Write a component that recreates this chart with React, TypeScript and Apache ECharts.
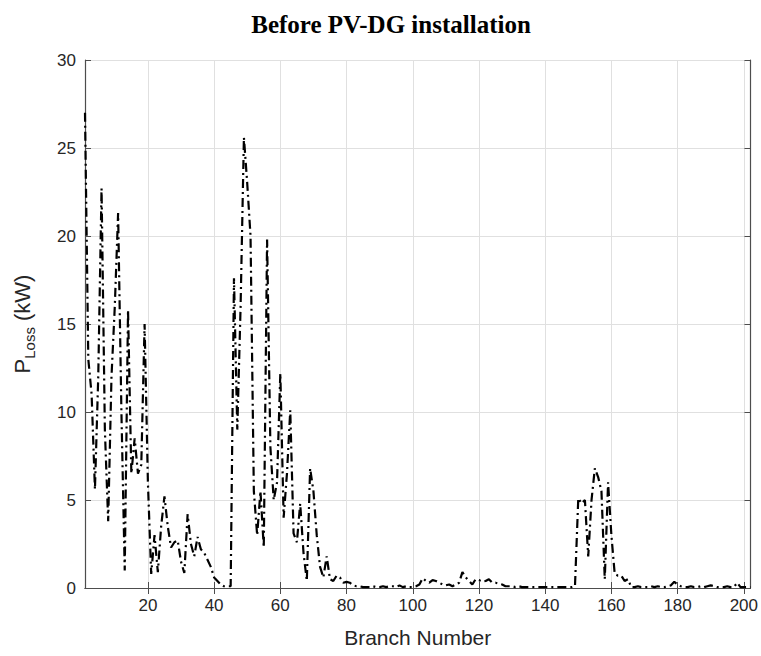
import React, { useEffect, useRef } from "react";
import * as echarts from "echarts";

const branchStart = 1;
const branchEnd = 202;

// Power loss per branch (kW), branches 1..202
const lossSeg1 = [
  27, 13, 11, 5.6, 12, 22.7, 9, 3.8, 12, 16,
  21.3, 10, 1, 15.8, 6.5, 8.5, 6.5, 7, 15, 6,
  0.8, 3.0, 0.9, 3.5, 5.2, 3.5, 2.3, 2.6, 2.7, 1.5,
  0.85, 4.2, 2.5, 1.8, 2.9, 2.2, 2.0, 1.6, 1.2, 0.6,
];
const lossSeg2 = [
  0.4, 0.2, 0.1, 0.1, 0.1, 17.6, 9, 16, 25.6, 23,
  20, 5.5, 3, 5.5, 2.3, 19.8, 8, 5, 6, 12.2,
  4, 6.5, 10.1, 3.1, 2.6, 4.8, 2, 0.4, 6.8, 5.5,
  3, 1.2, 0.6, 1.8, 0.5, 0.4, 0.7, 0.6, 0.3, 0.35,
];
const lossSeg3 = [
  0.3, 0.15, 0.1, 0.1, 0.05, 0.05, 0.05, 0.1, 0.05, 0.05,
  0.1, 0.05, 0.1, 0.1, 0.05, 0.15, 0.05, 0.1, 0.05, 0.05,
  0.1, 0.2, 0.55, 0.4, 0.3, 0.45, 0.4, 0.3, 0.2, 0.15,
  0.2, 0.1, 0.2, 0.3, 0.9, 0.6, 0.4, 0.2, 0.5, 0.45,
];
const lossSeg4 = [
  0.35, 0.4, 0.5, 0.3, 0.3, 0.25, 0.2, 0.1, 0.1, 0.1,
  0.05, 0.1, 0.05, 0.05, 0.05, 0.05, 0.05, 0.05, 0.05, 0.05,
  0.05, 0.05, 0.05, 0.05, 0.05, 0.05, 0.05, 0.05, 0.1, 5.1,
  4.8, 5.0, 1.8, 5.0, 6.8, 6.3, 5.5, 0.5, 6.0, 3,
];
const lossSeg5 = [
  0.8, 0.7, 0.7, 0.4, 0.5, 0.05, 0.05, 0.1, 0.05, 0.05,
  0.05, 0.1, 0.05, 0.1, 0.05, 0.05, 0.1, 0.15, 0.35, 0.2,
  0.1, 0.05, 0.05, 0.1, 0.05, 0.05, 0.1, 0.05, 0.1, 0.15,
  0.1, 0.05, 0.05, 0.05, 0.1, 0.05, 0.05, 0.3, 0.05, 0.05,
  0.05, 0.05,
];
const lossValues = [...lossSeg1, ...lossSeg2, ...lossSeg3, ...lossSeg4, ...lossSeg5];

const xTickValues = [20, 40, 60, 80, 100, 120, 140, 160, 180, 200];
const yMin = 0;
const yMax = 30;
const yInterval = 5;

const titleText = "Before PV-DG installation";
const xAxisName = "Branch Number";

export default function App() {
  const ref = useRef<HTMLDivElement>(null);

  useEffect(() => {
    if (!ref.current) return;
    const chart = echarts.init(ref.current, undefined, { renderer: "svg" });
    const data = lossValues.map((v, i) => [branchStart + i, v]);
    const axisColor = "#4d4d4d";
    const labelColor = "#262626";
    const gridColor = "#e0e0e0";
    const font = "Liberation Sans";

    chart.setOption({
      animation: false,
      backgroundColor: "#ffffff",
      title: {
        text: titleText,
        left: 386,
        textAlign: "center",
        top: 7,
        textStyle: {
          fontFamily: "Liberation Serif",
          fontWeight: "bold",
          fontSize: 25,
          color: "#000",
        },
      },
      grid: { left: 85, top: 60, right: 6, bottom: 68 },
      xAxis: [
        {
          type: "value",
          min: branchStart,
          max: branchEnd,
          position: "bottom",
          name: xAxisName,
          nameLocation: "middle",
          nameGap: 39,
          nameTextStyle: { fontFamily: font, fontSize: 21, color: labelColor },
          axisLine: { show: true, lineStyle: { color: axisColor, width: 1.2 } },
          axisTick: {
            show: true,
            inside: true,
            length: 6,
            customValues: xTickValues,
            lineStyle: { color: axisColor },
          },
          axisLabel: {
            customValues: xTickValues,
            fontFamily: font,
            fontSize: 17,
            color: labelColor,
            margin: 9,
          },
          splitLine: { show: true, lineStyle: { color: gridColor, width: 1 } },
        },
        {
          type: "value",
          min: branchStart,
          max: branchEnd,
          position: "top",
          axisLine: { show: true, lineStyle: { color: axisColor, width: 1.2 } },
          axisTick: {
            show: true,
            inside: true,
            length: 6,
            customValues: xTickValues,
            lineStyle: { color: axisColor },
          },
          axisLabel: { show: false },
          splitLine: { show: false },
        },
      ],
      yAxis: [
        {
          type: "value",
          min: yMin,
          max: yMax,
          interval: yInterval,
          position: "left",
          name: "{a|P}{b|Loss}{a| (kW)}",
          nameLocation: "middle",
          nameRotate: 90,
          nameGap: 48,
          nameTextStyle: {
            rich: {
              a: {
                fontFamily: font,
                fontSize: 22,
                color: labelColor,
                lineHeight: 30,
                verticalAlign: "middle",
              },
              b: {
                fontFamily: font,
                fontSize: 15,
                color: labelColor,
                lineHeight: 30,
                verticalAlign: "bottom",
              },
            },
          },
          axisLine: { show: true, lineStyle: { color: axisColor, width: 1.2 } },
          axisTick: { show: true, inside: true, length: 6, lineStyle: { color: axisColor } },
          axisLabel: { fontFamily: font, fontSize: 17, color: labelColor, margin: 9 },
          splitLine: { show: true, lineStyle: { color: gridColor, width: 1 } },
        },
        {
          type: "value",
          min: yMin,
          max: yMax,
          interval: yInterval,
          position: "right",
          axisLine: { show: true, lineStyle: { color: axisColor, width: 1.2 } },
          axisTick: { show: true, inside: true, length: 6, lineStyle: { color: axisColor } },
          axisLabel: { show: false },
          splitLine: { show: false },
        },
      ],
      series: [
        {
          type: "line",
          data,
          xAxisIndex: 0,
          yAxisIndex: 0,
          showSymbol: false,
          symbol: "none",
          lineStyle: { color: "#000", width: 2.2, type: [9, 4, 2, 4] },
        },
      ],
    });

    return () => chart.dispose();
  }, []);

  return (
    <div
      ref={ref}
      style={{ position: "fixed", left: 0, top: 0, width: 761, height: 656, background: "#fff" }}
    />
  );
}
